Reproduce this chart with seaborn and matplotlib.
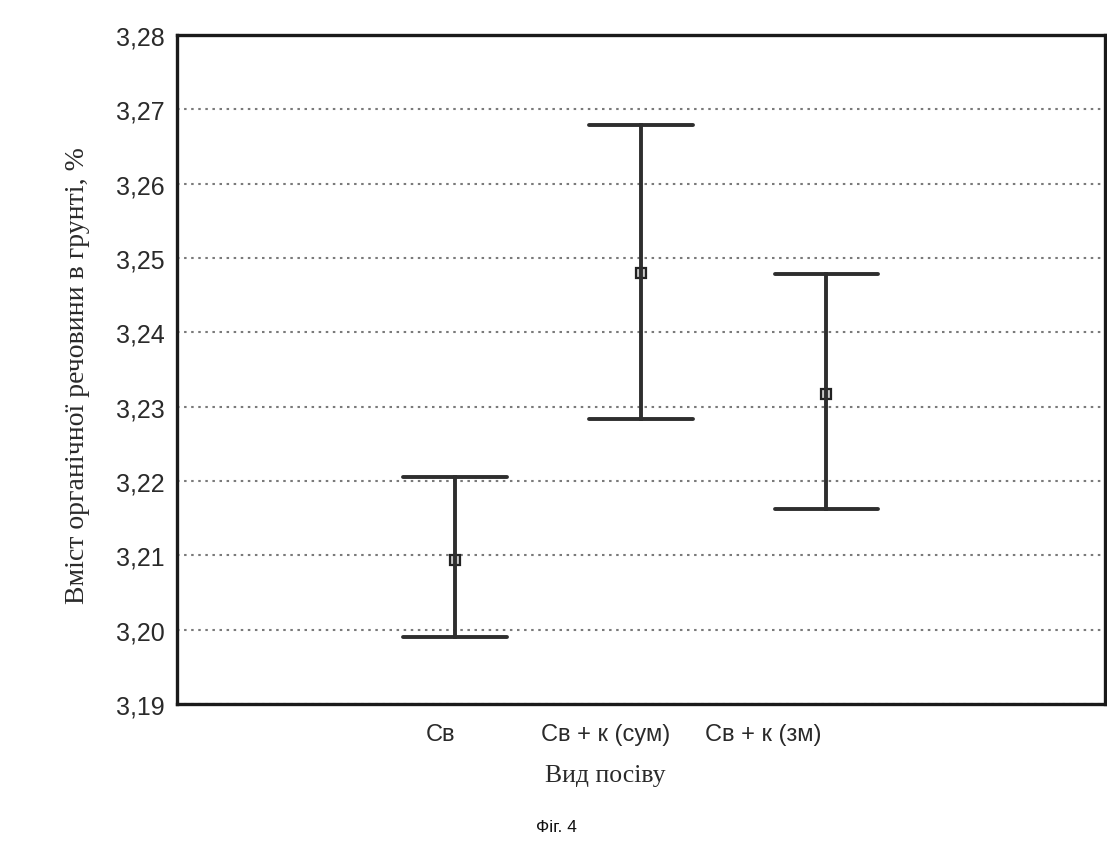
import matplotlib
matplotlib.use("Agg")
import matplotlib.pyplot as plt
import numpy as np
import pandas as pd
import seaborn as sns

# ---- data ----
categories = ["Св", "Св + к (сум)", "Св + к (зм)"]
means = [3.2093, 3.2480, 3.2317]
lower = [3.1990, 3.2283, 3.2162]
upper = [3.2205, 3.2679, 3.2479]
yticks = [3.19, 3.20, 3.21, 3.22, 3.23, 3.24, 3.25, 3.26, 3.27, 3.28]
ylabel = "Вміст органічної речовини в грунті, %"
xlabel = "Вид посіву"
caption = "Фіг. 4"

# long form: min / mean / max per category -> median = mean, 100% PI = range
rows = []
for c, lo, m, hi in zip(categories, lower, means, upper):
    for v in (lo, m, hi):
        rows.append({"cat": c, "value": v})
df = pd.DataFrame(rows)

sns.set_theme(style="white")
plt.rcParams["font.family"] = ["Liberation Sans", "DejaVu Sans"]

fig = plt.figure(figsize=(11.07, 8.54), dpi=100)
fig.patch.set_facecolor("white")
ax = fig.add_axes([0.16, 0.1745, 0.838, 0.7835])

sns.pointplot(
    data=df, x="cat", y="value", order=categories,
    estimator="median", errorbar=("pi", 100), capsize=0.56,
    color="#2e2e2e", marker="s", linestyle="none",
    markersize=7, markerfacecolor="#c8c8c8", markeredgecolor="#222222",
    markeredgewidth=1.6, err_kws={"linewidth": 2.8}, ax=ax,
)

ax.set_xlim(-1.5, 3.5)
ax.set_ylim(3.19, 3.28)
ax.set_yticks(yticks)
ax.set_yticklabels([f"{t:.2f}".replace(".", ",") for t in yticks],
                   fontsize=18, color="#2a2a2a")
label_pos = [-0.08, 0.81, 1.66]
ax.set_xticks(label_pos)
ax.set_xticklabels(categories, fontsize=17, color="#2a2a2a",
                   family=["Liberation Sans Narrow", "Liberation Sans", "DejaVu Sans"])
ax.tick_params(axis="x", length=0, pad=14)
ax.tick_params(axis="y", length=0, pad=9)

ax.yaxis.grid(True, linestyle=(0, (1.2, 2.2)), color="#7a7a7a", linewidth=1.5)
ax.xaxis.grid(False)
ax.set_axisbelow(True)
for s in ax.spines.values():
    s.set_visible(True)
    s.set_color("#1a1a1a")
    s.set_linewidth(2.4)

ax.set_ylabel(ylabel, family=["Liberation Serif", "DejaVu Serif"], fontsize=20,
              color="#2a2a2a")
ax.yaxis.set_label_coords(-0.107, 0.492)
ax.yaxis.label.set_verticalalignment("center")
ax.set_xlabel(xlabel, family=["Liberation Serif", "DejaVu Serif"], fontsize=18.5,
              color="#2a2a2a")
ax.xaxis.set_label_coords(0.461, -0.106)
ax.xaxis.label.set_verticalalignment("center")

fig.text(556 / 1107, 1 - 828 / 854, caption, ha="center", va="center",
         fontsize=12.5, color="#111111")

fig.savefig("out.png", dpi=100, facecolor="white")
